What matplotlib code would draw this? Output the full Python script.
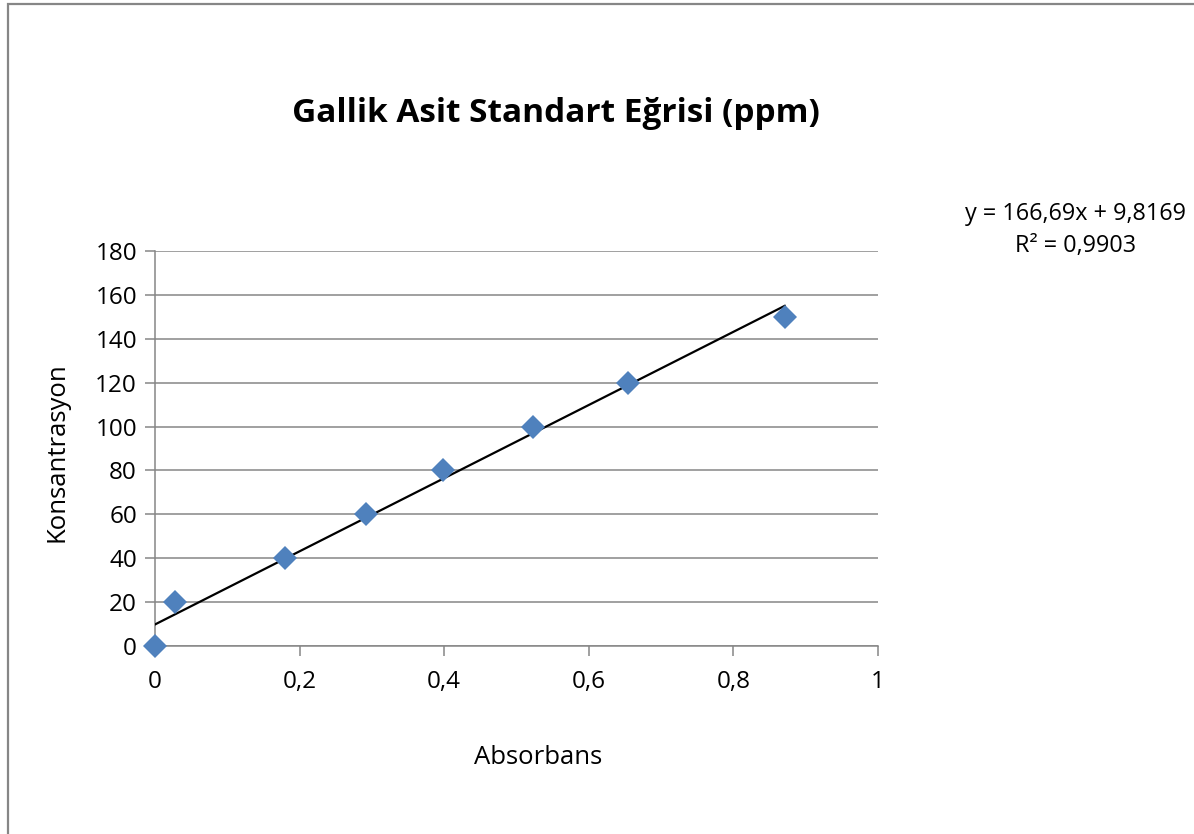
import numpy as np
import matplotlib.pyplot as plt
from matplotlib.patches import Rectangle

plt.rcParams['font.family'] = ['Open Sans', 'DejaVu Sans']

# Veri
absorbans = [0.0, 0.028, 0.180, 0.292, 0.399, 0.523, 0.654, 0.871]
konsantrasyon = [0, 20, 40, 60, 80, 100, 120, 150]
egim, kesim = 166.69, 9.8169
x_ticks = [0, 0.2, 0.4, 0.6, 0.8, 1]
x_labels = ['0', '0,2', '0,4', '0,6', '0,8', '1']
y_ticks = [0, 20, 40, 60, 80, 100, 120, 140, 160, 180]

W, H = 1194, 834
fig = plt.figure(figsize=(W / 100, H / 100), dpi=100)
ax = fig.add_axes([155 / W, 1 - 646 / H, (878 - 155) / W, (646 - 251) / H])

grid_c = '#868686'
ax.set_xlim(0, 1)
ax.set_ylim(0, 180)
ax.set_xticks(x_ticks)
ax.set_xticklabels(x_labels)
ax.set_yticks(y_ticks)
ax.yaxis.grid(True, color=grid_c, linewidth=1.1)
ax.set_axisbelow(True)
for s in ['top', 'right']:
    ax.spines[s].set_visible(False)
for s in ['left', 'bottom']:
    ax.spines[s].set_color(grid_c)
    ax.spines[s].set_linewidth(1.1)
ax.tick_params(axis='both', colors=grid_c, width=1.1, length=7,
               labelcolor='black', labelsize=17.5)
ax.tick_params(axis='x', pad=10)
ax.tick_params(axis='y', pad=6)

# Trend çizgisi
xt = np.array([0, max(absorbans)])
ax.plot(xt, egim * xt + kesim, color='black', linewidth=1.6, zorder=3)

ax.plot(absorbans, konsantrasyon, 'D', color='#4F81BD', markersize=12.5,
        markeredgewidth=0, zorder=4, clip_on=False)

fig.text(556 / W, 1 - 113 / H, 'Gallik Asit Standart Eğrisi (ppm)',
         ha='center', va='center', fontsize=24, fontweight='bold')
fig.text(538 / W, 1 - 757 / H, 'Absorbans', ha='center', va='center', fontsize=18.5)
fig.text(57 / W, 1 - 452 / H, 'Konsantrasyon', ha='center', va='center',
         rotation=90, fontsize=18.5)
fig.text(1186 / W, 1 - 230 / H, 'y = 166,69x + 9,8169\nR² = 0,9903',
         ha='right', va='center', multialignment='center', fontsize=16.8,
         linespacing=1.45)

fig.patches.append(Rectangle((8 / W, -0.1), 1.2, 1 - 4 / H + 0.1,
                             transform=fig.transFigure, fill=False,
                             edgecolor=grid_c, linewidth=1.6))

plt.savefig('out.png', dpi=100)
